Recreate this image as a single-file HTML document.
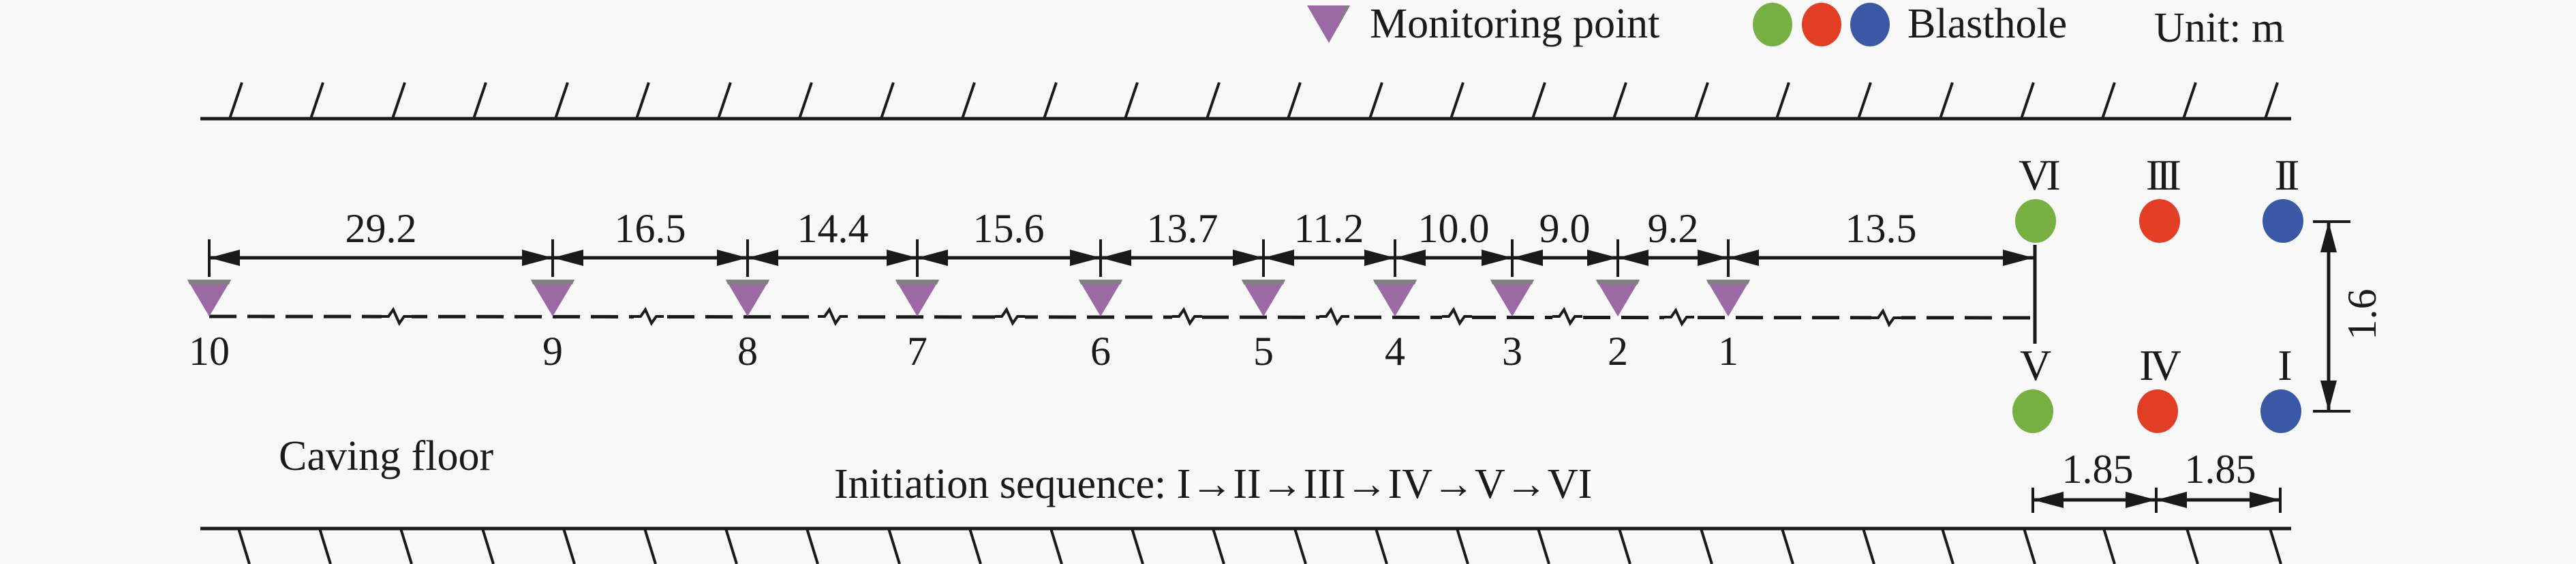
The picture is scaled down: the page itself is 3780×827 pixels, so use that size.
<!DOCTYPE html>
<html><head><meta charset="utf-8"><style>
html,body{margin:0;padding:0;background:#f8f8f8;}
svg{display:block}
text{font-family:"Liberation Serif",serif;fill:#1a1a1a;}
</style></head><body>
<svg width="3780" height="827" viewBox="0 0 3780 827" xmlns="http://www.w3.org/2000/svg">
<defs>
<marker id="a" viewBox="0 0 45 24" refX="45" refY="12" markerWidth="45" markerHeight="24" markerUnits="userSpaceOnUse" orient="auto-start-reverse"><path d="M0,0 L45,12 L0,24 Z" fill="#1a1a1a"/></marker>
<g id="tri"><polygon points="-32,410 32,410 0,464" fill="#9b69a3"/><polygon points="-32,410 32,410 29,417 -29,417" fill="#808080"/></g>
<path id="zz" d="M-22,0 h10 l7,-10 l9,20 l7,-10 h11" fill="none" stroke="#1a1a1a" stroke-width="4"/>
</defs>
<rect width="3780" height="827" fill="#f8f8f8"/>
<!-- top wall -->
<line x1="294" y1="174" x2="3362" y2="174" stroke="#1a1a1a" stroke-width="5"/>
<g stroke="#1a1a1a" stroke-width="4">
<line x1="337" y1="174" x2="355" y2="121"/><line x1="456" y1="174" x2="474" y2="121"/><line x1="576" y1="174" x2="594" y2="121"/><line x1="695" y1="174" x2="713" y2="121"/><line x1="815" y1="174" x2="833" y2="121"/><line x1="934" y1="174" x2="952" y2="121"/><line x1="1054" y1="174" x2="1072" y2="121"/><line x1="1173" y1="174" x2="1191" y2="121"/><line x1="1293" y1="174" x2="1311" y2="121"/><line x1="1412" y1="174" x2="1430" y2="121"/><line x1="1532" y1="174" x2="1550" y2="121"/><line x1="1651" y1="174" x2="1669" y2="121"/><line x1="1771" y1="174" x2="1789" y2="121"/><line x1="1890" y1="174" x2="1908" y2="121"/><line x1="2010" y1="174" x2="2028" y2="121"/><line x1="2129" y1="174" x2="2147" y2="121"/><line x1="2249" y1="174" x2="2267" y2="121"/><line x1="2368" y1="174" x2="2386" y2="121"/><line x1="2488" y1="174" x2="2506" y2="121"/><line x1="2607" y1="174" x2="2625" y2="121"/><line x1="2727" y1="174" x2="2745" y2="121"/><line x1="2847" y1="174" x2="2865" y2="121"/><line x1="2966" y1="174" x2="2984" y2="121"/><line x1="3085" y1="174" x2="3103" y2="121"/><line x1="3204" y1="174" x2="3222" y2="121"/><line x1="3324" y1="174" x2="3342" y2="121"/>
</g>
<!-- bottom wall -->
<line x1="294" y1="775" x2="3362" y2="775" stroke="#1a1a1a" stroke-width="5"/>
<g stroke="#1a1a1a" stroke-width="4">
<line x1="350" y1="775" x2="366" y2="827"/><line x1="469" y1="775" x2="485" y2="827"/><line x1="588" y1="775" x2="604" y2="827"/><line x1="708" y1="775" x2="724" y2="827"/><line x1="827" y1="775" x2="843" y2="827"/><line x1="946" y1="775" x2="962" y2="827"/><line x1="1065" y1="775" x2="1081" y2="827"/><line x1="1184" y1="775" x2="1200" y2="827"/><line x1="1304" y1="775" x2="1320" y2="827"/><line x1="1423" y1="775" x2="1439" y2="827"/><line x1="1542" y1="775" x2="1558" y2="827"/><line x1="1661" y1="775" x2="1677" y2="827"/><line x1="1780" y1="775" x2="1796" y2="827"/><line x1="1900" y1="775" x2="1916" y2="827"/><line x1="2019" y1="775" x2="2035" y2="827"/><line x1="2138" y1="775" x2="2154" y2="827"/><line x1="2257" y1="775" x2="2273" y2="827"/><line x1="2376" y1="775" x2="2392" y2="827"/><line x1="2496" y1="775" x2="2512" y2="827"/><line x1="2615" y1="775" x2="2631" y2="827"/><line x1="2734" y1="775" x2="2750" y2="827"/><line x1="2850" y1="775" x2="2866" y2="827"/><line x1="2970" y1="775" x2="2986" y2="827"/><line x1="3087" y1="775" x2="3103" y2="827"/><line x1="3209" y1="775" x2="3225" y2="827"/><line x1="3331" y1="775" x2="3347" y2="827"/>
</g>
<!-- dashed line -->
<line x1="307" y1="464" x2="2980" y2="466" stroke="#1a1a1a" stroke-width="5" stroke-dasharray="40 16"/>
<g fill="#f8f8f8">
<rect x="560" y="450" width="44" height="30"/><rect x="930" y="450" width="44" height="30"/><rect x="1200" y="450" width="44" height="30"/><rect x="1460" y="450" width="44" height="30"/><rect x="1720" y="450" width="44" height="30"/><rect x="1936" y="450" width="44" height="30"/><rect x="2116" y="450" width="44" height="30"/><rect x="2278" y="450" width="44" height="30"/><rect x="2442" y="450" width="44" height="30"/><rect x="2746" y="450" width="44" height="30"/>
</g>
<use href="#zz" x="582" y="464"/><use href="#zz" x="952" y="464"/><use href="#zz" x="1222" y="464"/><use href="#zz" x="1482" y="464"/><use href="#zz" x="1742" y="464"/><use href="#zz" x="1958" y="464"/><use href="#zz" x="2138" y="464"/><use href="#zz" x="2300" y="464"/><use href="#zz" x="2464" y="465"/><use href="#zz" x="2768" y="466"/>
<!-- vertical end line -->
<line x1="2986" y1="359" x2="2986" y2="504" stroke="#1a1a1a" stroke-width="5"/>
<!-- dimension ticks -->
<g stroke="#1a1a1a" stroke-width="4">
<line x1="307" y1="351" x2="307" y2="406"/><line x1="811" y1="351" x2="811" y2="406"/><line x1="1097" y1="351" x2="1097" y2="406"/><line x1="1346" y1="351" x2="1346" y2="406"/><line x1="1615" y1="351" x2="1615" y2="406"/><line x1="1854" y1="351" x2="1854" y2="406"/><line x1="2047" y1="351" x2="2047" y2="406"/><line x1="2219" y1="351" x2="2219" y2="406"/><line x1="2374" y1="351" x2="2374" y2="406"/><line x1="2536" y1="351" x2="2536" y2="406"/>
</g>
<g stroke="#1a1a1a" stroke-width="5" marker-start="url(#a)" marker-end="url(#a)">
<line x1="307" y1="378" x2="811" y2="378"/><line x1="811" y1="378" x2="1097" y2="378"/><line x1="1097" y1="378" x2="1346" y2="378"/><line x1="1346" y1="378" x2="1615" y2="378"/><line x1="1615" y1="378" x2="1854" y2="378"/><line x1="1854" y1="378" x2="2047" y2="378"/><line x1="2047" y1="378" x2="2219" y2="378"/><line x1="2219" y1="378" x2="2374" y2="378"/><line x1="2374" y1="378" x2="2536" y2="378"/><line x1="2536" y1="378" x2="2984" y2="378"/>
</g>
<g font-size="60" text-anchor="middle">
<text x="559" y="355">29.2</text><text x="954" y="355">16.5</text><text x="1222" y="355">14.4</text><text x="1480" y="355">15.6</text><text x="1735" y="355">13.7</text><text x="1950" y="355">11.2</text><text x="2133" y="355">10.0</text><text x="2296" y="355">9.0</text><text x="2455" y="355">9.2</text><text x="2760" y="355">13.5</text>
</g>
<!-- triangles -->
<use href="#tri" x="307"/><use href="#tri" x="811"/><use href="#tri" x="1097"/><use href="#tri" x="1346"/><use href="#tri" x="1615"/><use href="#tri" x="1854"/><use href="#tri" x="2047"/><use href="#tri" x="2219"/><use href="#tri" x="2374"/><use href="#tri" x="2536"/>
<g font-size="60" text-anchor="middle">
<text x="307" y="535">10</text><text x="811" y="535">9</text><text x="1097" y="535">8</text><text x="1346" y="535">7</text><text x="1615" y="535">6</text><text x="1854" y="535">5</text><text x="2047" y="535">4</text><text x="2219" y="535">3</text><text x="2374" y="535">2</text><text x="2536" y="535">1</text>
</g>
<!-- blastholes -->
<ellipse cx="2987" cy="324" rx="30" ry="32" fill="#76b043"/><ellipse cx="3169" cy="324" rx="30" ry="32" fill="#e23d25"/><ellipse cx="3350" cy="324" rx="30" ry="32" fill="#3a58a6"/>
<ellipse cx="2983" cy="603" rx="30" ry="32" fill="#76b043"/><ellipse cx="3166" cy="603" rx="30" ry="32" fill="#e23d25"/><ellipse cx="3347" cy="603" rx="30" ry="32" fill="#3a58a6"/>
<g font-size="64" text-anchor="middle" letter-spacing="-6">
<text x="2990" y="278">VI</text><text x="3172" y="278">III</text><text x="3353" y="278">II</text>
<text x="2984" y="557">V</text><text x="3167" y="557">IV</text><text x="3350" y="557">I</text>
</g>
<!-- 1.6 dim -->
<g stroke="#1a1a1a" stroke-width="4">
<line x1="3394" y1="325" x2="3449" y2="325"/><line x1="3394" y1="603" x2="3449" y2="603"/>
</g>
<line x1="3417" y1="325" x2="3417" y2="603" stroke="#1a1a1a" stroke-width="5" marker-start="url(#a)" marker-end="url(#a)"/>
<text x="3466" y="461" font-size="60" text-anchor="middle" transform="rotate(-90 3466 461)" dy="20">1.6</text>
<!-- 1.85 dims -->
<g stroke="#1a1a1a" stroke-width="4">
<line x1="2983" y1="715" x2="2983" y2="752"/><line x1="3164" y1="715" x2="3164" y2="752"/><line x1="3346" y1="715" x2="3346" y2="752"/>
</g>
<g stroke="#1a1a1a" stroke-width="5" marker-start="url(#a)" marker-end="url(#a)">
<line x1="2983" y1="733" x2="3164" y2="733"/><line x1="3164" y1="733" x2="3346" y2="733"/>
</g>
<g font-size="60" text-anchor="middle"><text x="3078" y="708">1.85</text><text x="3258" y="708">1.85</text></g>
<!-- texts -->
<text x="409" y="689" font-size="62">Caving floor</text>
<text x="1224" y="730" font-size="62">Initiation sequence: I→II→III→IV→V→VI</text>
<!-- legend -->
<polygon points="1918,8 1981,8 1950,63" fill="#9b69a3"/><polygon points="1974,8 1981,8 1962,42" fill="#808080"/>
<text x="2010" y="55" font-size="62">Monitoring point</text>
<ellipse cx="2601" cy="36" rx="29" ry="32" fill="#76b043"/><ellipse cx="2673" cy="36" rx="29" ry="32" fill="#e23d25"/><ellipse cx="2744" cy="36" rx="29" ry="32" fill="#3a58a6"/>
<text x="2799" y="55" font-size="62">Blasthole</text>
<text x="3161" y="61" font-size="62">Unit: m</text>
</svg>
</body></html>
